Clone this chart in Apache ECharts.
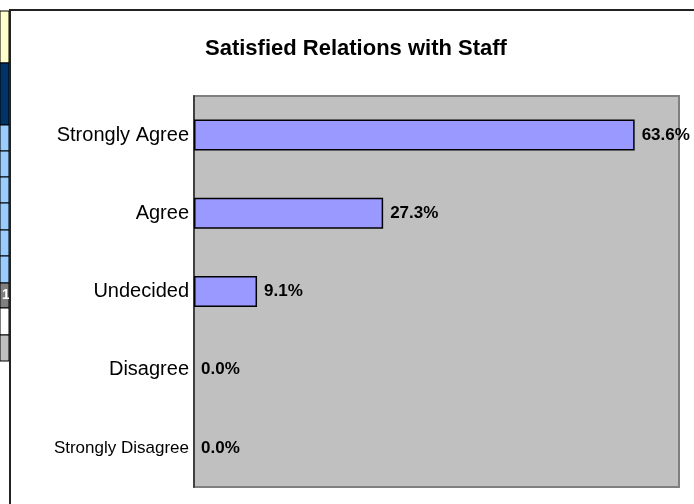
<!DOCTYPE html>
<html>
<head>
<meta charset="utf-8">
<title>Satisfied Relations with Staff</title>
<script src="https://cdn.jsdelivr.net/npm/echarts@6/dist/echarts.min.js"></script>
<style>
  html, body { margin: 0; padding: 0; background: #fff; }
  #chart { width: 694px; height: 504px; }
</style>
</head>
<body>
<div id="chart"></div>
<script>
// data
var categories = ['Strongly Agree', 'Agree', 'Undecided', 'Disagree', 'Strongly Disagree'];
var percentValues = [63.6, 27.3, 9.1, 0.0, 0.0];
var chartTitle = 'Satisfied Relations with Staff';

// the bits of the spreadsheet that show on the left of the chart
var sheetRows = [
  {top: 11, bottom: 63, color: '#FFFFCC'},
  {top: 63, bottom: 125, color: '#003366'},
  {top: 125, bottom: 151, color: '#99CCFF'},
  {top: 151, bottom: 177, color: '#99CCFF'},
  {top: 177, bottom: 203, color: '#99CCFF'},
  {top: 203, bottom: 230, color: '#99CCFF'},
  {top: 230, bottom: 256, color: '#99CCFF'},
  {top: 256, bottom: 283, color: '#99CCFF'},
  {top: 283, bottom: 308, color: '#808080', text: '1'},
  {top: 308, bottom: 335, color: '#FFFFFF'},
  {top: 335, bottom: 361, color: '#C0C0C0'}
];

var fontFamily = '"Liberation Sans", Arial, sans-serif';

var chart = echarts.init(document.getElementById('chart'), null, {renderer: 'canvas'});

var graphics = [];
sheetRows.forEach(function (row) {
  graphics.push({
    type: 'rect',
    shape: {x: 0, y: row.top, width: 9, height: row.bottom - row.top},
    style: {fill: row.color, stroke: '#000', lineWidth: 1},
    silent: true
  });
  if (row.text) {
    graphics.push({
      type: 'text',
      x: 6, y: (row.top + row.bottom) / 2,
      style: {text: row.text, fill: '#fff', font: 'bold 14px ' + fontFamily, align: 'center', verticalAlign: 'middle'},
      silent: true
    });
  }
});
// chart frame
graphics.push({
  type: 'rect',
  shape: {x: 10, y: 10, width: 700, height: 510},
  style: {fill: null, stroke: '#222', lineWidth: 2},
  silent: true
});

var yData = categories.map(function (name) {
  var item = {value: name};
  if (name === 'Strongly Disagree') {
    item.textStyle = {fontSize: 17};
  }
  return item;
});

// zero bars get no outline, otherwise a thin black stub shows on the axis
var barData = percentValues.map(function (v) {
  return v === 0 ? {value: v, itemStyle: {borderWidth: 0}} : v;
});

var option = {
  animation: false,
  backgroundColor: '#fff',
  title: {
    text: chartTitle,
    left: 205,
    top: 38,
    padding: 0,
    textStyle: {
      fontFamily: fontFamily,
      fontSize: 22,
      fontWeight: 'bold',
      color: '#000'
    }
  },
  graphic: graphics,
  grid: {
    left: 194,
    right: 15,
    top: 96,
    bottom: 17,
    show: true,
    backgroundColor: '#C0C0C0',
    borderColor: '#808080',
    borderWidth: 2
  },
  xAxis: {
    type: 'value',
    min: 0,
    max: 70,
    show: false,
    splitLine: {show: false}
  },
  yAxis: {
    type: 'category',
    inverse: true,
    data: yData,
    axisLine: {show: true, lineStyle: {color: '#404040', width: 2}},
    axisTick: {show: false},
    axisLabel: {
      margin: 5,
      color: '#000',
      fontFamily: fontFamily,
      fontSize: 20
    }
  },
  series: [
    {
      name: 'Percent',
      type: 'bar',
      data: barData,
      barWidth: 31,
      itemStyle: {
        color: '#9999FF',
        borderColor: '#000',
        borderWidth: 1.5
      },
      label: {
        show: true,
        position: 'right',
        distance: 7,
        color: '#000',
        fontFamily: fontFamily,
        fontSize: 17,
        fontWeight: 'bold',
        formatter: function (p) {
          return p.value.toFixed(1) + '%';
        }
      }
    }
  ]
};

chart.setOption(option);
</script>
</body>
</html>
